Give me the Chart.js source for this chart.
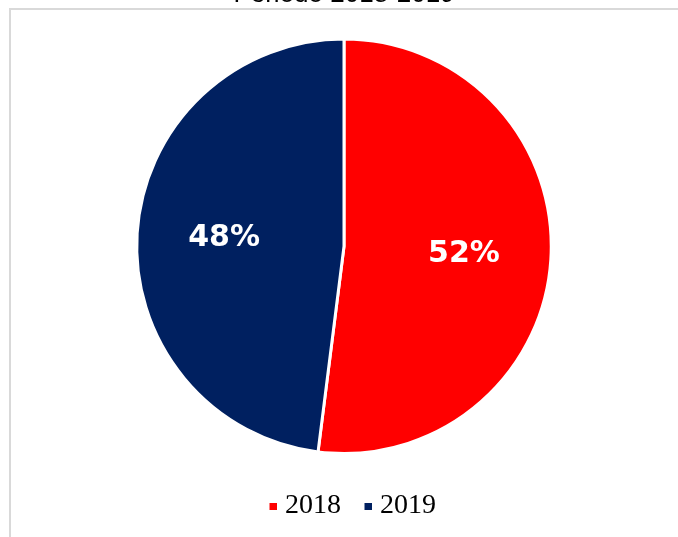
<!DOCTYPE html>
<html>
<head>
<meta charset="utf-8">
<script src="https://cdn.jsdelivr.net/npm/chart.js@4"></script>
<style>
  html, body { margin: 0; padding: 0; background: #fff; overflow: hidden; }
  #frame { position: absolute; left: 9px; top: 8px; width: 700px; height: 560px;
           border-left: 2px solid #d9d9d9; border-top: 2px solid #d9d9d9; }
  #wrap { position: absolute; left: 0; top: -30px; width: 678px; height: 560px; }
</style>
</head>
<body>
<div id="frame"></div>
<div id="wrap"><canvas id="pieChart" width="678" height="560"></canvas></div>
<script>
// Données
const titre = 'Periodo 2018-2019';
const annees = ['2018', '2019'];
const parts = [52, 48];
const couleurs = ['#FF0000', '#002060'];

// Petit carré de légende, décalé vers la droite de son cadre
function marque(couleur) {
  const c = document.createElement('canvas');
  c.width = 30;
  c.height = 7;
  const g = c.getContext('2d');
  g.fillStyle = couleur;
  g.fillRect(23, 0, 7, 7);
  return c;
}

// Pourcentages écrits dans chaque part
const etiquettesParts = {
  id: 'etiquettesParts',
  afterDatasetsDraw(chart) {
    const ctx = chart.ctx;
    const meta = chart.getDatasetMeta(0);
    const total = parts.reduce((a, b) => a + b, 0);
    ctx.save();
    ctx.font = 'bold 30px "DejaVu Sans"';
    ctx.fillStyle = '#ffffff';
    ctx.textAlign = 'center';
    ctx.textBaseline = 'middle';
    meta.data.forEach((arc, i) => {
      const p = arc.getProps(['x', 'y', 'startAngle', 'endAngle', 'outerRadius'], true);
      const milieu = (p.startAngle + p.endAngle) / 2;
      const r = p.outerRadius * 0.58;
      const pct = Math.round(parts[i] / total * 100) + '%';
      ctx.fillText(pct, p.x + Math.cos(milieu) * r, p.y + Math.sin(milieu) * r);
    });
    ctx.restore();
  }
};

new Chart(document.getElementById('pieChart').getContext('2d'), {
  type: 'pie',
  data: {
    labels: annees,
    datasets: [{
      data: parts,
      backgroundColor: couleurs,
      borderColor: '#ffffff',
      borderWidth: 3,
      hoverOffset: 0
    }]
  },
  options: {
    responsive: false,
    animation: false,
    layout: { padding: { left: 10, right: 0, top: 0, bottom: 0 } },
    plugins: {
      title: {
        display: true,
        text: titre,
        color: '#000000',
        font: { family: '"Liberation Sans", Arial, sans-serif', size: 26, weight: 'normal' },
        padding: { top: 9.4, bottom: 26.9 }
      },
      legend: {
        position: 'bottom',
        title: { display: true, text: '', font: { size: 10 }, padding: { top: 19, bottom: 0 } },
        labels: {
          usePointStyle: true,
          boxWidth: 19,
          boxHeight: 7,
          padding: 6,
          color: '#000000',
          font: { family: '"Liberation Serif", "Times New Roman", serif', size: 28 },
          generateLabels(chart) {
            const items = Chart.overrides.pie.plugins.legend.labels.generateLabels(chart);
            items.forEach((item, i) => { item.pointStyle = marque(couleurs[i]); });
            return items;
          }
        }
      },
      tooltip: { enabled: false }
    }
  },
  plugins: [etiquettesParts]
});
</script>
</body>
</html>
